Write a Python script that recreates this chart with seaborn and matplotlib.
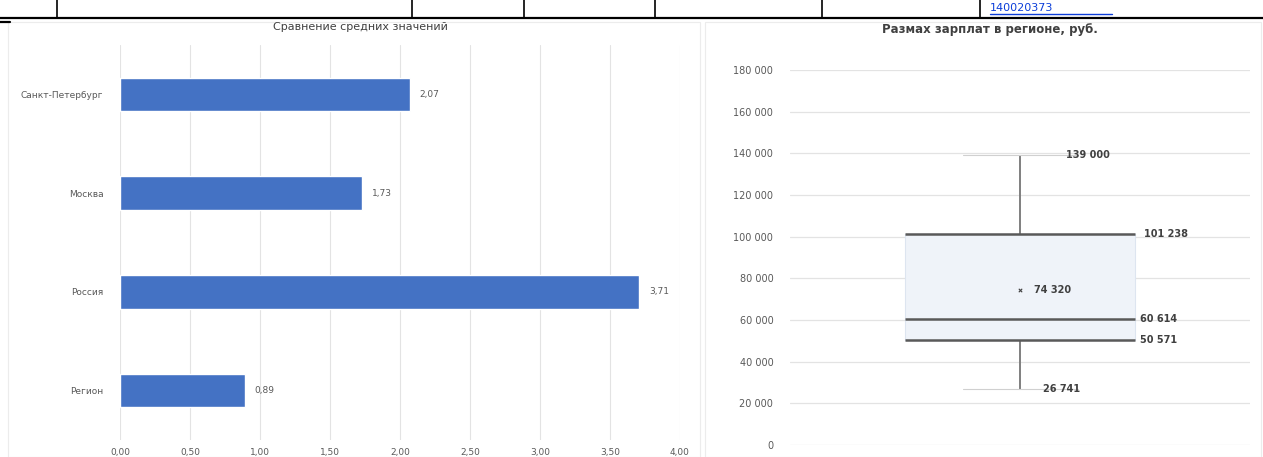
import matplotlib.pyplot as plt
import pandas as pd
import seaborn as sns
from matplotlib.lines import Line2D
from matplotlib.patches import Rectangle

# left chart: horizontal bars
regions = ["Санкт-Петербург", "Москва", "Россия", "Регион"]
shares = [2.07, 1.73, 3.71, 0.89]
share_ticks = [0.0, 0.5, 1.0, 1.5, 2.0, 2.5, 3.0, 3.5, 4.0]

# right chart: box plot (min, Q1, median, Q3, max) and mean
salary_points = [26741, 50571, 60614, 101238, 139000]
salary_mean = 74320
salary_ticks = [0, 20000, 40000, 60000, 80000, 100000, 120000, 140000, 160000, 180000]

# table cell borders above the charts (pixel x positions)
table_cols = [57, 412, 524, 655, 822, 980]

W, H = 1263, 457
BAR_COLOR = "#4472C4"
TEXT_COLOR = "#595959"
GRID_COLOR = "#e3e3e3"


def fmt_dec(v):
    return f"{v:.2f}".replace(".", ",")


def fmt_int(v):
    return f"{int(round(v)):,}".replace(",", " ")


sns.set_theme(style="white")
plt.rcParams["font.family"] = ["DejaVu Sans"]

fig = plt.figure(figsize=(W / 100, H / 100), dpi=100)

# chart frames
fig.add_artist(Rectangle((8 / W, 0), 692 / W, 1 - 22 / H, transform=fig.transFigure,
                         fill=False, edgecolor="#ececec", lw=0.8))
fig.add_artist(Rectangle((705 / W, 0), 556 / W, 1 - 22 / H, transform=fig.transFigure,
                         fill=False, edgecolor="#ececec", lw=0.8))

# table lines on top
fig.add_artist(Line2D([0, 1], [1 - 18 / H] * 2, color="black", lw=1.6))
for cx in table_cols:
    fig.add_artist(Line2D([cx / W] * 2, [1 - 18 / H, 1], color="black", lw=1.2))
fig.add_artist(Line2D([0, 10 / W], [1 - 22 / H] * 2, color="black", lw=1.6))
fig.text(990 / W, 1 - 8 / H, "140020373", color="#0b3dd9", fontsize=8,
         va="center", ha="left")
fig.add_artist(Line2D([990 / W, 1112 / W], [1 - 14 / H] * 2, color="#0b3dd9", lw=1.0))

# ---- left: bars ----
bars_df = pd.DataFrame({"region": regions, "share": shares})
ax1 = fig.add_axes([120 / W, 1 - 440 / H, 560 / W, 395 / H])
sns.barplot(data=bars_df, x="share", y="region", color=BAR_COLOR, width=0.34,
            orient="h", ax=ax1, saturation=1)
ax1.set_xlim(share_ticks[0], share_ticks[-1])
ax1.set_xticks(share_ticks)
ax1.set_xticklabels([fmt_dec(t) for t in share_ticks])
ax1.grid(axis="x", color=GRID_COLOR, lw=0.8)
ax1.set_axisbelow(True)
for s in ax1.spines.values():
    s.set_visible(False)
ax1.set_xlabel("")
ax1.set_ylabel("")
ax1.tick_params(axis="both", labelsize=6.5, labelcolor=TEXT_COLOR, length=0)
ax1.tick_params(axis="x", pad=6)
ax1.tick_params(axis="y", pad=12)
for i, v in enumerate(shares):
    ax1.text(v + 0.07, i, fmt_dec(v), va="center", ha="left",
             fontsize=6.5, color=TEXT_COLOR)
fig.text(360 / W, 1 - 27 / H, "Сравнение средних значений", ha="center", va="center",
         fontsize=8, color="#404040")

# ---- right: box plot ----
ax2 = fig.add_axes([790 / W, 1 - 445 / H, 460 / W, 375 / H])
ax2.vlines(0, salary_points[0], salary_points[-1], color="#7f7f7f", lw=1.2, zorder=1)
sns.boxplot(y=salary_points, whis=(0, 100), width=0.5, ax=ax2,
            color="#eef3fa", linecolor="#dde5f0", linewidth=0.8,
            medianprops={"color": "#595959", "linewidth": 1.8},
            whiskerprops={"color": "#7f7f7f", "linewidth": 1.2},
            capprops={"color": "#d0d0d0", "linewidth": 0.8})
ax2.hlines([salary_points[1], salary_points[3]], -0.25, 0.25,
           color="#595959", lw=1.8, zorder=3)
ax2.scatter([0], [salary_mean], marker="x", s=6, color="#404040", zorder=4, lw=0.8)
ax2.set_xlim(-0.5, 0.5)
ax2.set_ylim(salary_ticks[0], salary_ticks[-1])
ax2.set_yticks(salary_ticks)
ax2.set_yticklabels([fmt_int(t) for t in salary_ticks])
ax2.set_xticks([])
ax2.grid(axis="y", color=GRID_COLOR, lw=0.9)
ax2.set_axisbelow(True)
for s in ax2.spines.values():
    s.set_visible(False)
ax2.set_ylabel("")
ax2.tick_params(axis="y", labelsize=7, labelcolor=TEXT_COLOR, length=0, pad=12)

lab = dict(fontsize=7, color="#404040", va="center", ha="left", fontweight="bold")
ax2.text(0.10, salary_points[4], fmt_int(salary_points[4]), **lab)
ax2.text(0.27, salary_points[3], fmt_int(salary_points[3]), **lab)
ax2.text(0.26, salary_points[2], fmt_int(salary_points[2]), **lab)
ax2.text(0.26, salary_points[1], fmt_int(salary_points[1]), **lab)
ax2.text(0.05, salary_points[0], fmt_int(salary_points[0]), **lab)
ax2.text(0.03, salary_mean, fmt_int(salary_mean), **lab)

fig.text(990 / W, 1 - 30 / H, "Размах зарплат в регионе, руб.", ha="center", va="center",
         fontsize=8.5, color="#404040", fontweight="bold")

fig.savefig("out.png", dpi=100)
